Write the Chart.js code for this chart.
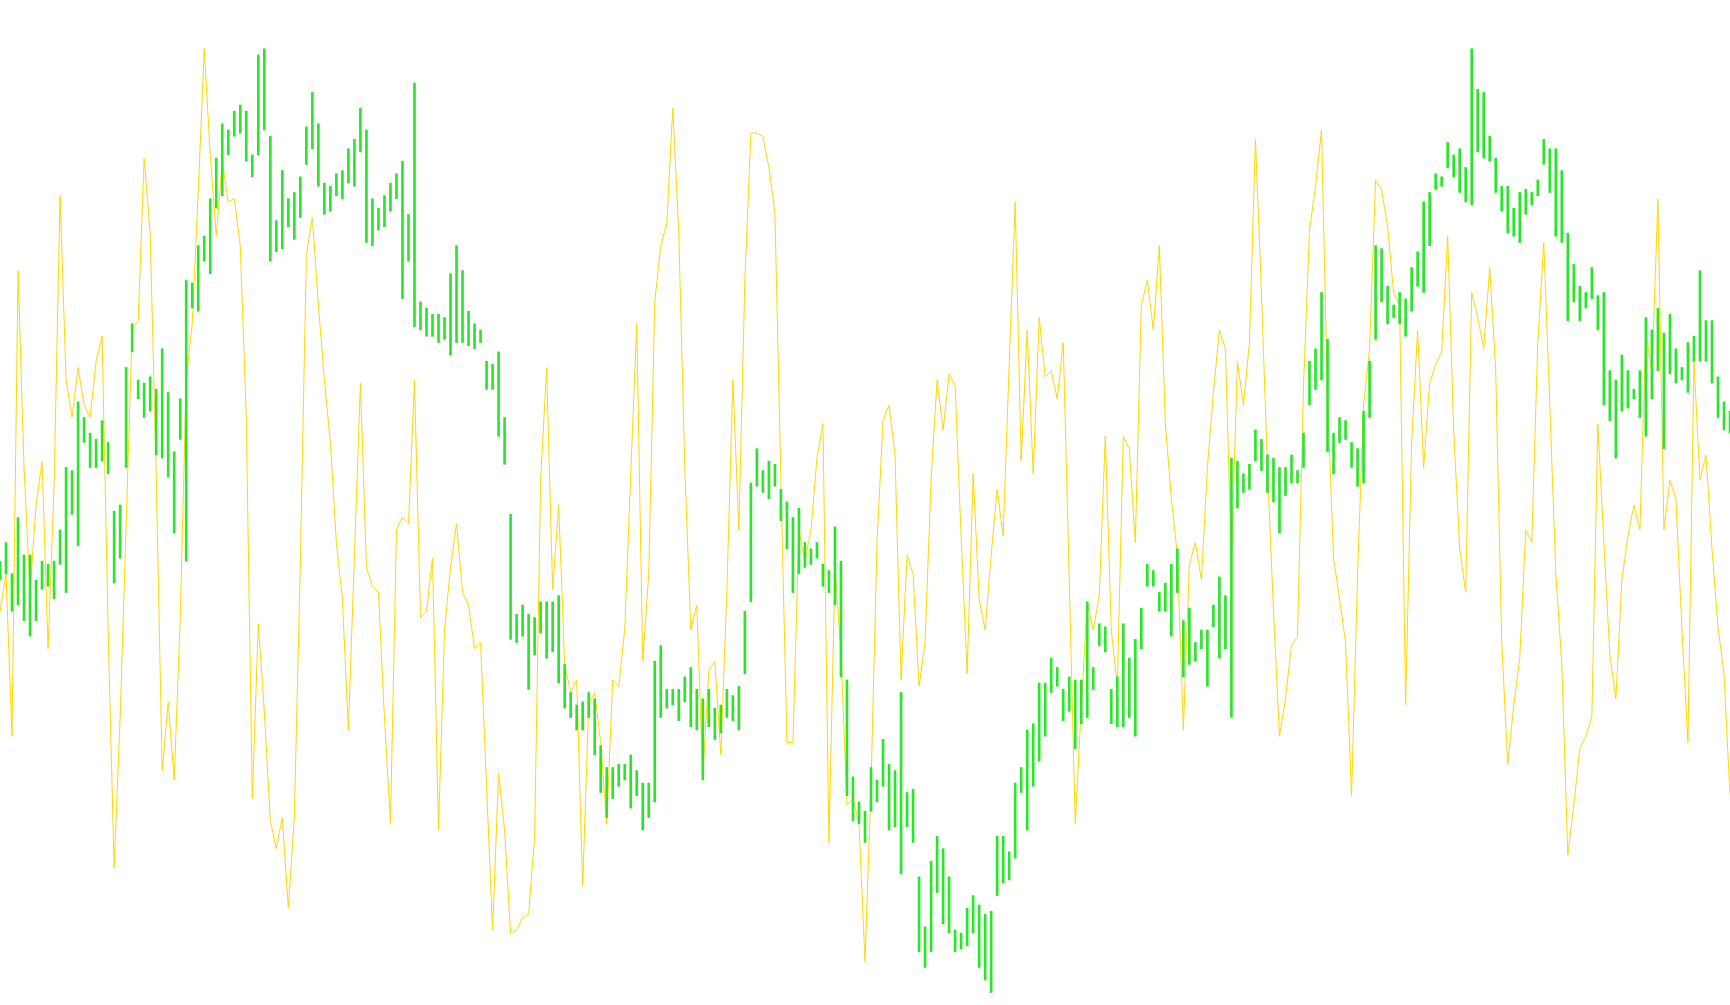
<!DOCTYPE html>
<html>
<head>
<meta charset="utf-8">
<script src="https://cdn.jsdelivr.net/npm/chart.js@4.4.1/dist/chart.umd.min.js"></script>
<style>
  html, body { margin: 0; padding: 0; background: #ffffff; }
  #wrap { width: 1730px; height: 1005px; position: relative; }
  canvas { display: block; }
</style>
</head>
<body>
<div id="wrap"><canvas id="c" width="1730" height="1005"></canvas></div>
<script>
// Signal line (gold)
const signalLine = [
62.0, 68.0, 42.0, 116.5, 85.0, 65.0, 79.0, 86.0, 56.0, 82.0,
128.5, 99.0, 93.0, 101.0, 95.0, 93.0, 102.0, 106.0, 59.0, 21.0,
45.0, 76.0, 107.0, 108.5, 134.5, 122.5, 84.0, 36.5, 47.5, 35.0,
61.0, 99.0, 108.0, 129.0, 152.0, 135.0, 122.0, 134.0, 127.5, 128.0,
120.5, 93.0, 32.0, 60.0, 46.0, 28.5, 24.0, 29.0, 14.5, 29.0,
70.0, 119.0, 125.0, 111.0, 99.0, 89.0, 73.0, 64.0, 43.0, 71.0,
98.5, 69.0, 66.0, 65.0, 45.0, 28.0, 75.0, 77.0, 76.0, 99.0,
61.0, 62.0, 70.5, 27.0, 59.0, 69.0, 76.0, 65.0, 63.0, 56.0,
57.0, 34.0, 11.0, 36.0, 27.0, 10.5, 11.0, 13.0, 13.5, 26.0,
83.0, 101.0, 65.5, 79.0, 53.5, 49.0, 51.0, 18.0, 47.0, 49.0,
41.0, 28.0, 51.0, 50.0, 59.0, 84.0, 108.0, 54.0, 68.0, 111.5,
120.5, 124.0, 142.5, 122.5, 85.0, 59.0, 63.0, 35.5, 52.5, 54.0,
39.0, 65.0, 99.0, 75.0, 115.0, 138.5, 138.5, 138.0, 133.0, 126.0,
83.0, 41.0, 41.0, 75.0, 70.0, 75.0, 86.5, 92.0, 25.0, 69.0,
55.5, 31.0, 32.0, 28.0, 6.0, 34.0, 73.0, 92.5, 95.0, 87.0,
51.0, 71.0, 68.0, 50.0, 57.0, 83.0, 99.0, 91.0, 100.0, 98.0,
74.0, 52.0, 84.0, 64.0, 59.0, 71.0, 81.5, 74.0, 101.5, 127.5,
86.0, 107.0, 84.0, 109.0, 99.5, 100.5, 96.0, 105.0, 67.0, 28.0,
46.5, 63.5, 59.0, 64.5, 90.0, 59.0, 50.0, 90.0, 88.0, 73.0,
111.0, 115.0, 107.0, 120.5, 92.0, 80.0, 71.0, 43.0, 69.5, 73.0,
67.0, 85.0, 97.0, 107.0, 104.0, 70.0, 102.0, 95.0, 105.0, 137.5,
113.0, 85.0, 62.0, 42.0, 48.0, 56.5, 58.0, 98.0, 123.0, 130.0,
139.0, 96.0, 70.5, 64.0, 57.0, 32.5, 68.0, 95.0, 104.0, 131.0,
129.5, 123.5, 113.0, 111.0, 47.0, 89.0, 107.0, 85.0, 98.5, 101.5,
103.5, 122.0, 91.0, 72.0, 65.0, 113.0, 109.0, 104.0, 117.0, 100.5,
57.0, 37.5, 47.0, 54.5, 75.0, 73.0, 105.0, 121.0, 95.0, 68.0,
53.5, 23.0, 31.0, 40.0, 42.0, 45.0, 92.0, 73.0, 55.0, 48.0,
67.0, 74.0, 79.0, 75.0, 107.0, 100.0, 128.0, 75.0, 83.0, 80.0,
59.0, 41.0, 102.0, 83.0, 87.0, 72.0, 59.5, 52.0, 32.5
];

// Range bars (green): high and low of each bar
const barHigh = [
70.0, 73.0, 68.0, 77.0, 71.0, 71.0, 67.0, 70.0, 69.5, 70.0,
75.0, 85.0, 84.5, 95.5, 93.0, 90.5, 89.5, 92.5, 89.0, 78.0,
79.0, 101.0, 108.0, 99.0, 98.5, 99.5, 97.5, 104.0, 97.0, 87.5,
96.0, 115.0, 114.5, 120.5, 122.0, 128.0, 134.5, 140.0, 139.0, 142.0,
143.0, 142.0, 135.0, 151.0, 152.0, 138.0, 124.5, 132.5, 128.0, 129.0,
131.5, 139.5, 145.0, 140.0, 130.5, 130.0, 132.0, 132.5, 136.0, 137.5,
142.5, 139.0, 128.0, 126.5, 128.5, 130.5, 132.0, 134.0, 125.5, 146.5,
111.5, 110.5, 109.5, 109.5, 109.0, 116.0, 120.5, 116.5, 110.0, 108.0,
107.0, 102.0, 101.5, 103.5, 93.0, 77.5, 61.5, 63.0, 61.5, 61.0,
63.5, 63.5, 63.5, 64.5, 53.5, 49.0, 47.0, 47.5, 49.0, 48.0,
40.5, 37.0, 37.0, 37.5, 37.5, 39.0, 36.5, 34.5, 34.5, 54.0,
56.5, 49.5, 49.5, 49.5, 51.5, 53.0, 49.5, 48.0, 49.5, 46.5,
47.0, 49.5, 48.5, 50.0, 62.0, 82.5, 88.0, 84.5, 86.0, 85.5,
81.5, 79.5, 77.0, 78.5, 73.0, 72.0, 73.0, 69.5, 68.5, 75.5,
70.0, 51.0, 35.5, 31.5, 30.0, 37.0, 35.0, 41.5, 37.5, 36.5,
49.0, 33.0, 33.5, 19.5, 11.5, 22.0, 26.0, 24.0, 19.5, 11.0,
10.5, 14.5, 16.5, 15.0, 13.5, 14.0, 26.0, 26.0, 23.5, 34.5,
37.0, 43.0, 44.0, 50.5, 50.5, 54.5, 53.0, 49.5, 51.5, 51.0,
51.0, 63.5, 53.0, 60.0, 59.5, 49.5, 51.5, 60.0, 54.5, 57.5,
62.5, 69.5, 68.5, 65.0, 66.5, 69.5, 72.0, 60.5, 62.5, 57.0,
59.0, 59.0, 63.0, 67.5, 64.5, 86.5, 86.0, 84.0, 85.5, 91.0,
89.5, 87.0, 86.5, 85.0, 85.0, 87.0, 84.5, 90.5, 102.0, 104.0,
113.0, 105.5, 90.5, 93.0, 92.5, 89.0, 88.0, 94.0, 102.0, 120.5,
120.0, 114.0, 111.0, 113.0, 112.0, 117.0, 119.5, 127.5, 129.0, 132.0,
131.5, 137.0, 135.0, 136.0, 133.0, 152.0, 145.5, 145.0, 138.0, 134.5,
130.0, 130.0, 126.5, 129.0, 129.5, 129.0, 131.0, 137.5, 136.0, 136.0,
132.5, 122.5, 117.5, 114.0, 113.0, 117.0, 112.5, 113.0, 100.5, 99.0,
103.0, 100.5, 97.5, 100.5, 109.0, 107.0, 110.5, 106.5, 109.5, 104.0,
101.0, 105.0, 106.0, 116.5, 108.5, 108.5, 99.5, 95.5, 94.0
];
const barLow = [
67.0, 68.0, 62.0, 63.0, 60.5, 58.0, 60.5, 65.5, 66.0, 64.0,
69.5, 65.0, 77.5, 72.5, 89.0, 85.0, 85.0, 86.0, 84.0, 66.5,
70.5, 85.0, 103.5, 96.0, 93.0, 94.0, 87.0, 86.5, 83.5, 74.5,
89.5, 70.0, 110.5, 110.0, 118.0, 116.0, 126.5, 128.5, 135.0, 138.0,
138.5, 134.0, 131.5, 135.0, 139.0, 118.0, 119.5, 120.0, 123.5, 121.5,
125.0, 133.5, 136.0, 130.0, 125.5, 126.0, 128.5, 128.0, 130.5, 130.0,
135.5, 121.0, 120.5, 123.0, 123.5, 126.0, 128.0, 112.0, 118.0, 107.5,
107.0, 106.0, 106.0, 105.0, 105.5, 103.0, 105.0, 105.0, 104.5, 104.0,
105.0, 97.5, 97.5, 90.0, 85.5, 57.5, 57.0, 58.0, 49.5, 55.0,
58.5, 54.5, 55.5, 50.5, 46.5, 45.0, 43.0, 43.0, 45.0, 39.0,
33.0, 29.0, 32.0, 34.0, 35.0, 30.5, 32.5, 27.0, 29.0, 31.5,
45.0, 46.5, 47.0, 44.5, 47.5, 43.5, 43.0, 35.0, 43.5, 41.5,
42.5, 45.0, 44.5, 43.0, 52.0, 63.5, 82.0, 81.0, 80.0, 82.0,
76.5, 72.0, 65.0, 68.0, 69.0, 69.5, 70.5, 66.0, 65.0, 63.0,
51.5, 32.5, 28.5, 28.0, 25.0, 30.0, 31.5, 34.0, 27.0, 27.5,
20.0, 27.5, 25.0, 7.5, 5.0, 7.5, 17.0, 12.0, 10.5, 7.5,
8.0, 8.5, 10.5, 5.0, 3.0, 1.0, 16.5, 18.5, 19.0, 22.5,
33.0, 27.0, 34.0, 38.0, 42.0, 49.0, 50.0, 44.5, 46.0, 40.0,
44.0, 45.0, 49.5, 56.5, 55.5, 44.0, 43.5, 43.5, 45.0, 42.0,
56.0, 66.0, 66.0, 62.0, 62.0, 58.0, 65.0, 51.5, 53.5, 54.0,
56.0, 50.0, 59.5, 54.5, 56.0, 45.0, 78.5, 81.0, 81.5, 86.0,
84.5, 81.0, 79.5, 74.5, 80.5, 82.5, 82.5, 85.0, 95.0, 97.5,
99.0, 87.5, 84.0, 89.0, 89.5, 85.0, 82.0, 82.5, 93.0, 105.5,
111.5, 108.0, 109.0, 108.0, 106.0, 110.0, 114.0, 113.0, 120.5, 129.5,
130.0, 133.0, 131.5, 129.0, 127.5, 127.0, 135.5, 134.5, 134.0, 129.0,
126.0, 122.5, 122.0, 121.0, 125.5, 127.0, 128.5, 133.5, 129.0, 122.0,
121.0, 108.5, 111.5, 108.5, 110.5, 112.0, 107.0, 95.0, 92.5, 86.5,
94.0, 94.5, 96.0, 93.0, 90.0, 96.0, 100.5, 88.0, 100.0, 98.5,
99.0, 97.0, 102.0, 102.0, 102.0, 98.5, 93.0, 91.0, 90.5
];

// Bar index labels (one per bar)
const barLabels = signalLine.map((_, i) => String(i + 1));

const ranges = barLow.map((lo, i) => [lo, barHigh[i]]);

new Chart(document.getElementById('c'), {
  type: 'bar',
  data: {
    labels: barLabels,
    datasets: [
      {
        type: 'bar',
        label: 'Range',
        data: ranges,
        backgroundColor: '#2ae62a',
        borderWidth: 0,
        borderSkipped: false,
        barThickness: 2,
        order: 0
      },
      {
        type: 'line',
        label: 'Signal',
        data: signalLine,
        borderColor: '#FFD700',
        borderWidth: 1,
        pointRadius: 0,
        pointHoverRadius: 0,
        tension: 0,
        fill: false,
        order: 1
      }
    ]
  },
  options: {
    responsive: false,
    animation: false,
    events: [],
    layout: { padding: 0 },
    plugins: { legend: { display: false }, tooltip: { enabled: false }, title: { display: false } },
    scales: {
      x: { display: false, offset: false, grid: { display: false } },
      y: { display: false, min: -1, max: 159.8, grid: { display: false } }
    }
  }
});
</script>
</body>
</html>
